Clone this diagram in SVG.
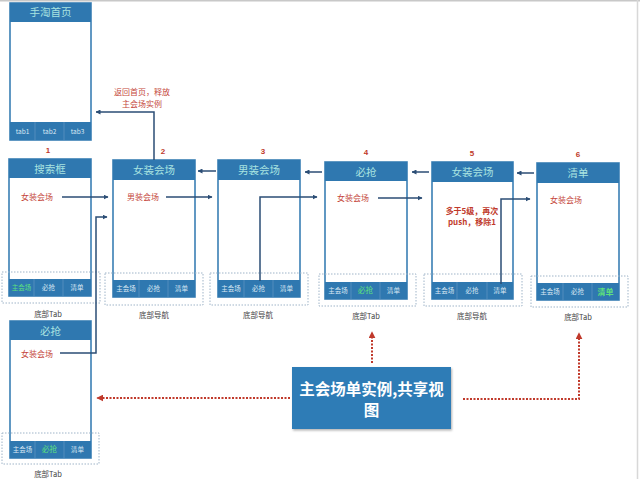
<svg xmlns="http://www.w3.org/2000/svg" width="640" height="479" viewBox="0 0 640 479">
<defs>
<style>
.frame{fill:#fff;stroke:#3a7fb4;stroke-width:1.6}
.bar{fill:#2f78b0}
.htxt{font-family:"Noto Sans CJK SC","Liberation Sans",sans-serif;font-size:10.5px;fill:#a9e3e0;text-anchor:middle}
.ttxt{font-family:"Noto Sans CJK SC","Liberation Sans",sans-serif;font-size:6.5px;fill:#dce9f4;text-anchor:middle}
.act{fill:#5ee07c}
.div{stroke:#5b93c2;stroke-width:0.8}
.red{font-family:"Noto Sans CJK SC","Liberation Sans",sans-serif;font-size:8px;fill:#c5483c;text-anchor:middle}
.redb{font-family:"Noto Sans CJK SC","Liberation Sans",sans-serif;font-size:8px;fill:#c0392b;font-weight:bold;text-anchor:middle}
.num{font-family:"Liberation Sans",sans-serif;font-size:8px;fill:#c0392b;font-weight:bold;text-anchor:middle}
.lbl{font-family:"Noto Sans CJK SC","Liberation Sans",sans-serif;font-size:7.5px;fill:#444;text-anchor:middle}
.dash{fill:none;stroke:#9fb4c8;stroke-width:1;stroke-dasharray:1.5,1.5}
.conn{fill:none;stroke:#2b4d75;stroke-width:1.5}
.dot{fill:none;stroke:#c0392b;stroke-width:2;stroke-dasharray:2,1.5}
</style>
<marker id="ah" viewBox="0 0 10 10" refX="9" refY="5" markerWidth="5" markerHeight="5" orient="auto" markerUnits="userSpaceOnUse">
<path d="M0,0 L10,5 L0,10 z" fill="#2b4d75"/>
</marker>
<marker id="rh" viewBox="0 0 10 10" refX="9" refY="5" markerWidth="7" markerHeight="7" orient="auto" markerUnits="userSpaceOnUse">
<path d="M0,0 L10,5 L0,10 z" fill="#c0392b"/>
</marker>
<filter id="sh" x="-10%" y="-10%" width="130%" height="130%">
<feDropShadow dx="1" dy="1.5" stdDeviation="1" flood-color="#000" flood-opacity="0.3"/>
</filter>
</defs>
<rect width="640" height="479" fill="#fff"/>
<line x1="0" y1="0.5" x2="640" y2="0.5" stroke="#c8c8c8" stroke-width="2"/>
<line x1="637.5" y1="0" x2="637.5" y2="479" stroke="#d8d8d8" stroke-width="1.5"/>

<g id="screen0">
<rect class="frame" x="10" y="3" width="81" height="137"/>
<rect class="bar" x="10" y="3" width="81" height="19"/>
<text class="htxt" x="50.5" y="16">手淘首页</text>
<rect class="bar" x="10" y="122" width="81" height="18"/>
<line class="div" x1="35" y1="122" x2="35" y2="140"/><line class="div" x1="64" y1="122" x2="64" y2="140"/>
<text class="ttxt" x="22.5" y="133.5">tab1</text><text class="ttxt" x="49.5" y="133.5">tab2</text><text class="ttxt" x="77.5" y="133.5">tab3</text>
</g>

<g id="screen1">
<text class="num" x="48" y="153">1</text>
<rect class="frame" x="9" y="159" width="82" height="137"/>
<rect class="bar" x="9" y="159" width="82" height="19"/>
<text class="htxt" x="50" y="172.5">搜索框</text>
<text class="red" x="37" y="200">女装会场</text>
<rect class="bar" x="9" y="279" width="82" height="17"/>
<line class="div" x1="34" y1="279" x2="34" y2="296"/><line class="div" x1="63" y1="279" x2="63" y2="296"/>
<text class="ttxt act" x="21.5" y="290">主会场</text><text class="ttxt" x="48.5" y="290">必抢</text><text class="ttxt" x="77" y="290">清单</text>
<rect class="dash" x="2" y="272" width="98" height="31"/>
<text class="lbl" x="48" y="317">底部Tab</text>
</g>

<g id="screen2">
<text class="num" x="163" y="154">2</text>
<rect class="frame" x="113" y="160" width="82" height="137"/>
<rect class="bar" x="113" y="160" width="82" height="20"/>
<text class="htxt" x="154" y="174">女装会场</text>
<text class="red" x="143" y="200">男装会场</text>
<rect class="bar" x="113" y="280" width="82" height="17"/>
<line class="div" x1="139" y1="280" x2="139" y2="297"/><line class="div" x1="168" y1="280" x2="168" y2="297"/>
<text class="ttxt" x="126" y="291">主会场</text><text class="ttxt" x="153.5" y="291">必抢</text><text class="ttxt" x="181.5" y="291">清单</text>
<rect class="dash" x="105" y="273" width="98" height="32"/>
<text class="lbl" x="154" y="318">底部导航</text>
</g>

<g id="screen3">
<text class="num" x="263" y="154">3</text>
<rect class="frame" x="218" y="160" width="82" height="137"/>
<rect class="bar" x="218" y="160" width="82" height="20"/>
<text class="htxt" x="259" y="174">男装会场</text>
<rect class="bar" x="218" y="280" width="82" height="17"/>
<line class="div" x1="244" y1="280" x2="244" y2="297"/><line class="div" x1="273" y1="280" x2="273" y2="297"/>
<text class="ttxt" x="231" y="291">主会场</text><text class="ttxt" x="258.5" y="291">必抢</text><text class="ttxt" x="286.5" y="291">清单</text>
<rect class="dash" x="210" y="273" width="98" height="32"/>
<text class="lbl" x="258" y="318">底部导航</text>
</g>

<g id="screen4">
<text class="num" x="366" y="155">4</text>
<rect class="frame" x="325" y="162" width="82" height="137"/>
<rect class="bar" x="325" y="162" width="82" height="19"/>
<text class="htxt" x="366" y="175.5">必抢</text>
<text class="red" x="353" y="201">女装会场</text>
<rect class="bar" x="325" y="282" width="82" height="17"/>
<line class="div" x1="351" y1="282" x2="351" y2="299"/><line class="div" x1="380" y1="282" x2="380" y2="299"/>
<text class="ttxt" x="338" y="293">主会场</text><text class="ttxt act" x="365.5" y="293" style="font-size:7.5px">必抢</text><text class="ttxt" x="393.5" y="293">清单</text>
<rect class="dash" x="319" y="274" width="97" height="32"/>
<text class="lbl" x="366" y="319">底部Tab</text>
</g>

<g id="screen5">
<text class="num" x="472" y="156">5</text>
<rect class="frame" x="432" y="162" width="81" height="137"/>
<rect class="bar" x="432" y="162" width="81" height="20"/>
<text class="htxt" x="472.5" y="176">女装会场</text>
<text class="redb" x="472" y="214">多于5级，再次</text>
<text class="redb" x="472" y="225">push，移除1</text>
<rect class="bar" x="432" y="282" width="81" height="17"/>
<line class="div" x1="457" y1="282" x2="457" y2="299"/><line class="div" x1="487" y1="282" x2="487" y2="299"/>
<text class="ttxt" x="444.5" y="293">主会场</text><text class="ttxt" x="472" y="293">必抢</text><text class="ttxt" x="500" y="293">清单</text>
<rect class="dash" x="424" y="274" width="98" height="32"/>
<text class="lbl" x="472" y="319">底部导航</text>
</g>

<g id="screen6">
<text class="num" x="578" y="157">6</text>
<rect class="frame" x="537" y="163" width="82" height="137"/>
<rect class="bar" x="537" y="163" width="82" height="20"/>
<text class="htxt" x="578" y="177">清单</text>
<text class="red" x="566" y="203">女装会场</text>
<rect class="bar" x="537" y="283" width="82" height="17"/>
<line class="div" x1="563" y1="283" x2="563" y2="300"/><line class="div" x1="592" y1="283" x2="592" y2="300"/>
<text class="ttxt" x="550" y="294">主会场</text><text class="ttxt" x="577.5" y="294">必抢</text><text class="ttxt act" x="605.5" y="294.5" style="font-size:8px;font-weight:bold">清单</text>
<rect class="dash" x="531" y="276" width="97" height="31"/>
<text class="lbl" x="578" y="320">底部Tab</text>
</g>

<g id="screen7">
<rect class="frame" x="10" y="321" width="81" height="137"/>
<rect class="bar" x="10" y="321" width="81" height="19"/>
<text class="htxt" x="50.5" y="334.5">必抢</text>
<text class="red" x="37" y="357">女装会场</text>
<rect class="bar" x="10" y="441" width="81" height="17"/>
<line class="div" x1="35" y1="441" x2="35" y2="458"/><line class="div" x1="64" y1="441" x2="64" y2="458"/>
<text class="ttxt" x="22.5" y="452">主会场</text><text class="ttxt act" x="49.5" y="452" style="font-size:7.5px">必抢</text><text class="ttxt" x="77.5" y="452">清单</text>
<rect class="dash" x="2" y="433" width="97" height="31"/>
<text class="lbl" x="48" y="477">底部Tab</text>
</g>

<g id="shared">
<rect x="292" y="367" width="159" height="62" fill="#2e7cb6" filter="url(#sh)"/>
<text x="371.5" y="395" font-family="'Noto Sans CJK SC','Liberation Sans',sans-serif" font-size="15.5" font-weight="bold" fill="#fff" text-anchor="middle">主会场单实例,共享视</text>
<text x="371.5" y="416" font-family="'Noto Sans CJK SC','Liberation Sans',sans-serif" font-size="15.5" font-weight="bold" fill="#fff" text-anchor="middle">图</text>
</g>

<g id="connectors">
<path class="conn" d="M154,160 V112 H96" marker-end="url(#ah)"/>
<text class="red" x="142" y="95">返回首页，释放</text>
<text class="red" x="142" y="107">主会场实例</text>
<path class="conn" d="M62,197 H108" marker-end="url(#ah)"/>
<path class="conn" d="M60,353 H96 V217 H107" marker-end="url(#ah)"/>
<path class="conn" d="M166,197 H212" marker-end="url(#ah)"/>
<path class="conn" d="M216,171 H198" marker-end="url(#ah)"/>
<path class="conn" d="M260,281 V197 H317" marker-end="url(#ah)"/>
<path class="conn" d="M322,172 H305" marker-end="url(#ah)"/>
<path class="conn" d="M378,198 H422" marker-end="url(#ah)"/>
<path class="conn" d="M429,172 H412" marker-end="url(#ah)"/>
<path class="conn" d="M501,284 V199 H530" marker-end="url(#ah)"/>
<path class="conn" d="M534,173 H517" marker-end="url(#ah)"/>
<path class="dot" d="M290,398 H97" marker-end="url(#rh)"/>
<path class="dot" d="M372,363 V332" marker-end="url(#rh)"/>
<path class="dot" d="M463,399 H579 V333" marker-end="url(#rh)"/>
</g>
</svg>
